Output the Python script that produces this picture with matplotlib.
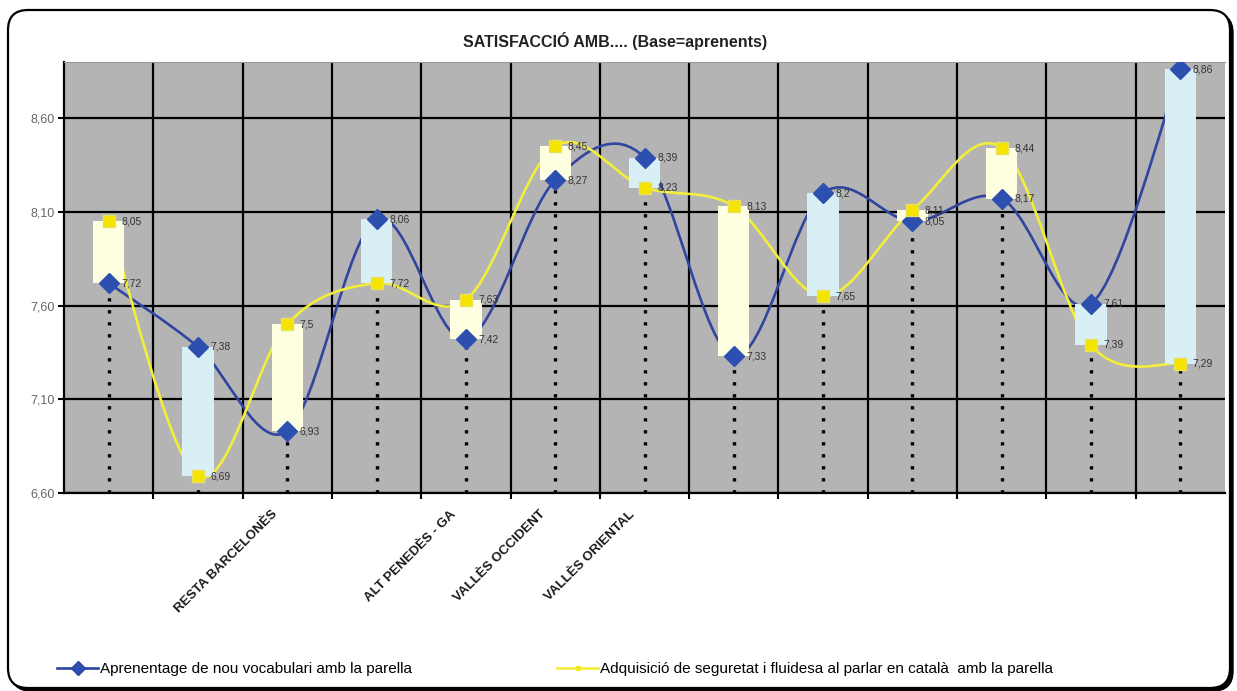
import numpy as np
import matplotlib
matplotlib.use("Agg")
import matplotlib.pyplot as plt
from matplotlib.path import Path
from matplotlib.patches import PathPatch, FancyBboxPatch
from matplotlib.lines import Line2D
from matplotlib import transforms

# data
categories = ["", "", "RESTA BARCELONÈS", "", "ALT PENEDÈS - GA", "VALLÈS OCCIDENT",
              "VALLÈS ORIENTAL", "", "", "", "", "", ""]
vocabulari = [7.72, 7.38, 6.93, 8.06, 7.42, 8.27, 8.39, 7.33, 8.2, 8.05, 8.17, 7.61, 8.86]
seguretat = [8.05, 6.69, 7.5, 7.72, 7.63, 8.45, 8.23, 8.13, 7.65, 8.11, 8.44, 7.39, 7.29]
y_ticks = [6.6, 7.1, 7.6, 8.1, 8.6]
series_names = ["Aprenentage de nou vocabulari amb la parella",
                "Adquisició de seguretat i fluidesa al parlar en català  amb la parella"]
title = "SATISFACCIÓ AMB.... (Base=aprenents)"

BLUE = "#2f45a0"
BLUE_MK = "#2d4fb0"
YELLOW = "#f2ee3a"
YELLOW_MK = "#f5e400"
UP_BAR = "#fefee0"
DOWN_BAR = "#d8f0f5"
BG = "#b4b4b4"


def smooth_path(xs, ys):
    pts = np.column_stack([xs, ys]).astype(float)
    n = len(pts)
    verts = [pts[0]]
    codes = [Path.MOVETO]
    for i in range(n - 1):
        p0 = pts[max(i - 1, 0)]
        p1 = pts[i]
        p2 = pts[i + 1]
        p3 = pts[min(i + 2, n - 1)]
        verts += [p1 + (p2 - p0) / 6, p2 - (p3 - p1) / 6, p2]
        codes += [Path.CURVE4] * 3
    return Path(verts, codes)


def fmt(v):
    return ("%g" % v).replace(".", ",")


plt.rcParams["font.family"] = ["Liberation Sans", "DejaVu Sans"]

fig = plt.figure(figsize=(12.37, 6.91), dpi=100)
fig.patch.set_facecolor("white")

# rounded frame with a small shadow
shadow = FancyBboxPatch((0.11, 0.0), 12.22, 6.78, boxstyle="round,pad=0,rounding_size=0.2",
                        transform=fig.dpi_scale_trans, facecolor="black", edgecolor="black",
                        zorder=-3)
frame = FancyBboxPatch((0.08, 0.03), 12.22, 6.78, boxstyle="round,pad=0,rounding_size=0.2",
                       transform=fig.dpi_scale_trans, facecolor="white", edgecolor="black",
                       linewidth=1.6, zorder=-2)
fig.patches.extend([shadow, frame])

ax = fig.add_axes([64 / 1237, 1 - 493 / 691, (1225 - 64) / 1237, (493 - 62) / 691])
ax.set_facecolor(BG)

x = np.arange(len(vocabulari))
ax.set_xlim(-0.5, len(x) - 0.5)
ax.set_ylim(6.6, 8.9)

# axes, ticks and grid
ax.set_yticks(y_ticks)
ax.set_yticklabels([("%.2f" % v).replace(".", ",") for v in y_ticks], fontsize=9, color="#666666")
ax.set_xticks(x)
ax.set_xticklabels(categories, rotation=45, ha="right", va="center",
                   rotation_mode="anchor", fontsize=9.5, fontweight="bold", color="#1a1a1a")
ax.set_xticks(x[:-1] + 0.5, minor=True)
ax.tick_params(axis="x", which="major", length=0, pad=14)
ax.tick_params(axis="x", which="minor", length=4, width=1.5, color="black")
ax.tick_params(axis="y", length=4, width=1.5, color="black", pad=3)
ax.grid(True, axis="y", which="major", color="black", linewidth=1.6, zorder=1)
ax.grid(True, axis="x", which="minor", color="black", linewidth=1.6, zorder=1)
ax.set_axisbelow(True)
offset = transforms.ScaledTranslation(-0.12, 0, fig.dpi_scale_trans)
for lbl in ax.get_xticklabels():
    lbl.set_transform(lbl.get_transform() + offset)

for s in ["left", "bottom"]:
    ax.spines[s].set_color("black")
    ax.spines[s].set_linewidth(1.6)
ax.spines["right"].set_visible(False)
ax.spines["top"].set_color("#9a9a9a")
ax.spines["top"].set_linewidth(0.8)

# drop lines
tops = np.maximum(vocabulari, seguretat)
ax.vlines(x, 6.6, tops, colors="black", linestyles=(0, (1, 2.6)), linewidth=2.4, zorder=2)

# smoothed lines
ax.add_patch(PathPatch(smooth_path(x, vocabulari), facecolor="none", edgecolor=BLUE,
                       linewidth=1.9, zorder=3))
ax.add_patch(PathPatch(smooth_path(x, seguretat), facecolor="none", edgecolor=YELLOW,
                       linewidth=1.9, zorder=3))

# up / down bars
low = np.minimum(vocabulari, seguretat)
diff = np.array(seguretat) - np.array(vocabulari)
colors = [UP_BAR if d > 0 else DOWN_BAR for d in diff]
ax.bar(x, np.abs(diff), bottom=low, width=0.35, color=colors, zorder=4)

# markers
ax.plot(x, vocabulari, linestyle="none", marker="D", markersize=10.5, color=BLUE_MK, zorder=5)
ax.plot(x, seguretat, linestyle="none", marker="s", markersize=8.5, color=YELLOW_MK,
        markeredgecolor="#e8e060", zorder=5)

for xi, v in zip(x, vocabulari):
    ax.annotate(fmt(v), (xi, v), xytext=(9, 0), textcoords="offset points", va="center",
                fontsize=7.5, color="#333333", zorder=6)
for xi, v in zip(x, seguretat):
    ax.annotate(fmt(v), (xi, v), xytext=(9, 0), textcoords="offset points", va="center",
                fontsize=7.5, color="#333333", zorder=6)

fig.text(615 / 1237, 1 - 41 / 691, title, ha="center", va="center", fontsize=11.5,
         fontweight="bold", color="#222222")

# legend
h1 = Line2D([], [], color=BLUE, linewidth=1.9, marker="D", markersize=7, markerfacecolor=BLUE_MK)
h2 = Line2D([], [], color=YELLOW, linewidth=1.9, marker="s", markersize=3, markerfacecolor=YELLOW_MK)
leg_font = {"size": 11}
l1 = fig.legend(handles=[h1], labels=[series_names[0]], loc="center left",
                bbox_to_anchor=(57 / 1237, 1 - 669 / 691), frameon=False, prop=leg_font,
                handlelength=2.7, handletextpad=0.1, borderpad=0, borderaxespad=0)
l2 = fig.legend(handles=[h2], labels=[series_names[1]], loc="center left",
                bbox_to_anchor=(557 / 1237, 1 - 669 / 691), frameon=False, prop=leg_font,
                handlelength=2.7, handletextpad=0.1, borderpad=0, borderaxespad=0)

fig.savefig("out.png", dpi=100, facecolor="white")
